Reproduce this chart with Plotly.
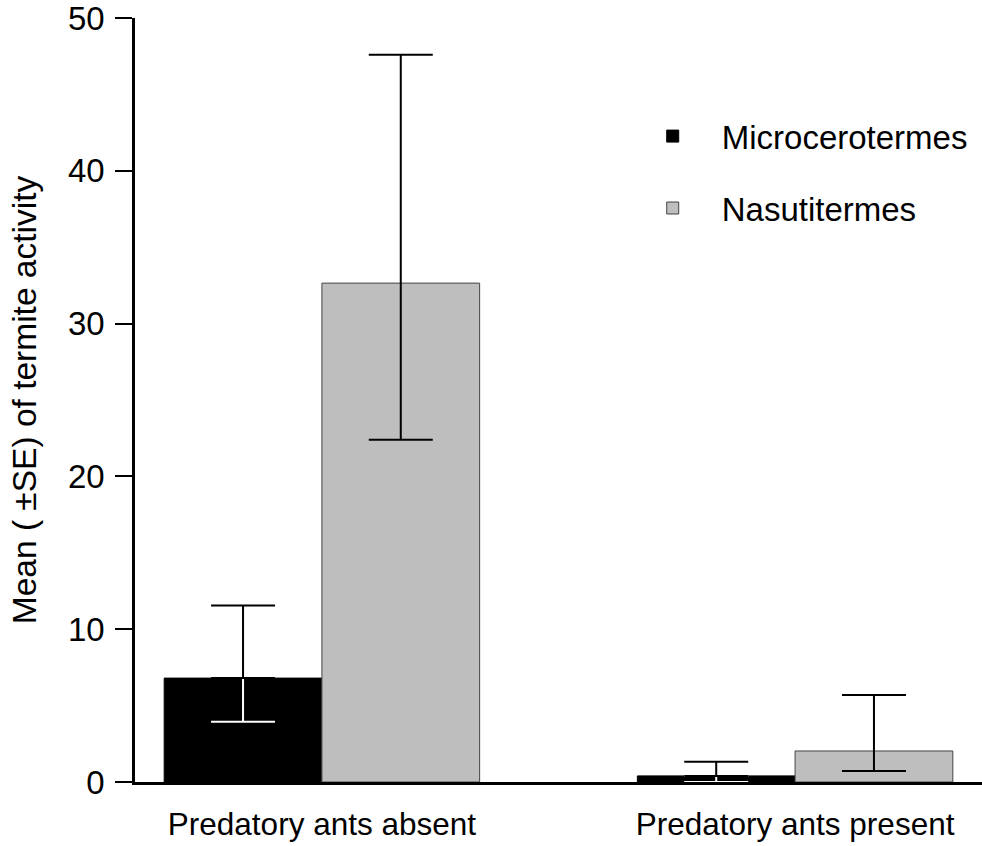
import plotly.graph_objects as go

groups = ["Predatory ants absent", "Predatory ants present"]
series_names = ["Microcerotermes", "Nasutitermes"]
micro_mean = [6.8, 0.4]
micro_lower = [3.95, 0.0]
micro_upper = [11.55, 1.33]
nasuti_mean = [32.65, 2.03]
nasuti_lower = [22.4, 0.72]
nasuti_upper = [47.6, 5.7]
y_ticks = [0, 10, 20, 30, 40, 50]

FONT = "Liberation Sans, Arial, Helvetica, sans-serif"
bar_w = 1 / 3
idx = list(range(len(groups)))
micro_x = [i - bar_w / 2 for i in idx]
nasuti_x = [i + bar_w / 2 for i in idx]

fig = go.Figure()
fig.add_trace(go.Bar(
    x=micro_x, y=micro_mean, width=bar_w, name=series_names[0],
    marker=dict(color="black", line=dict(color="black", width=1)),
    legendgroup="a"))
fig.add_trace(go.Bar(
    x=nasuti_x, y=nasuti_mean, width=bar_w, name=series_names[1],
    marker=dict(color="#bebebe", line=dict(color="#444444", width=1)),
    legendgroup="b"))

# white lower part of error bar inside black bars
fig.add_trace(go.Scatter(
    x=micro_x, y=micro_mean, mode="markers",
    marker=dict(color="rgba(0,0,0,0)", size=1), showlegend=False, hoverinfo="skip",
    error_y=dict(type="data", symmetric=False,
                 array=[0 for _ in micro_mean],
                 arrayminus=[m - l for m, l in zip(micro_mean, micro_lower)],
                 color="white", thickness=2, width=32)))
fig.add_trace(go.Scatter(
    x=micro_x, y=micro_mean, mode="markers",
    marker=dict(color="rgba(0,0,0,0)", size=1), showlegend=False, hoverinfo="skip",
    error_y=dict(type="data", symmetric=False,
                 array=[u - m for m, u in zip(micro_mean, micro_upper)],
                 arrayminus=[0 for _ in micro_mean],
                 color="black", thickness=2, width=32)))
fig.add_trace(go.Scatter(
    x=nasuti_x, y=nasuti_mean, mode="markers",
    marker=dict(color="rgba(0,0,0,0)", size=1), showlegend=False, hoverinfo="skip",
    error_y=dict(type="data", symmetric=False,
                 array=[u - m for m, u in zip(nasuti_mean, nasuti_upper)],
                 arrayminus=[m - l for m, l in zip(nasuti_mean, nasuti_lower)],
                 color="black", thickness=2, width=32)))

fig.update_layout(
    width=982, height=846,
    margin=dict(l=135, r=0, t=18, b=64),
    paper_bgcolor="white", plot_bgcolor="white",
    font=dict(family=FONT, size=31, color="black"),
    showlegend=True,
    legend=dict(x=0.577, y=0.882, xanchor="left", yanchor="top",
                font=dict(size=33), bgcolor="rgba(0,0,0,0)",
                tracegroupgap=26, traceorder="grouped", itemwidth=88),
    xaxis=dict(range=[-0.395, 1.395], tickvals=idx, ticktext=groups,
               showgrid=False, zeroline=False, showline=True, linewidth=3,
               linecolor="black", ticks="", ticklabelstandoff=12,
               tickfont=dict(size=31.5)),
    yaxis=dict(range=[0, 50], tickvals=y_ticks, showgrid=False, zeroline=False,
               showline=True, linewidth=2.5, linecolor="black",
               ticks="outside", ticklen=17, tickwidth=2, tickcolor="black",
               tickfont=dict(size=33), ticklabelstandoff=4,
               ticklabeloverflow="allow",
               title=dict(text="Mean ( \u00b1SE) of termite activity",
                          font=dict(size=33.5), standoff=22)),
)

fig.write_html("out.html")
